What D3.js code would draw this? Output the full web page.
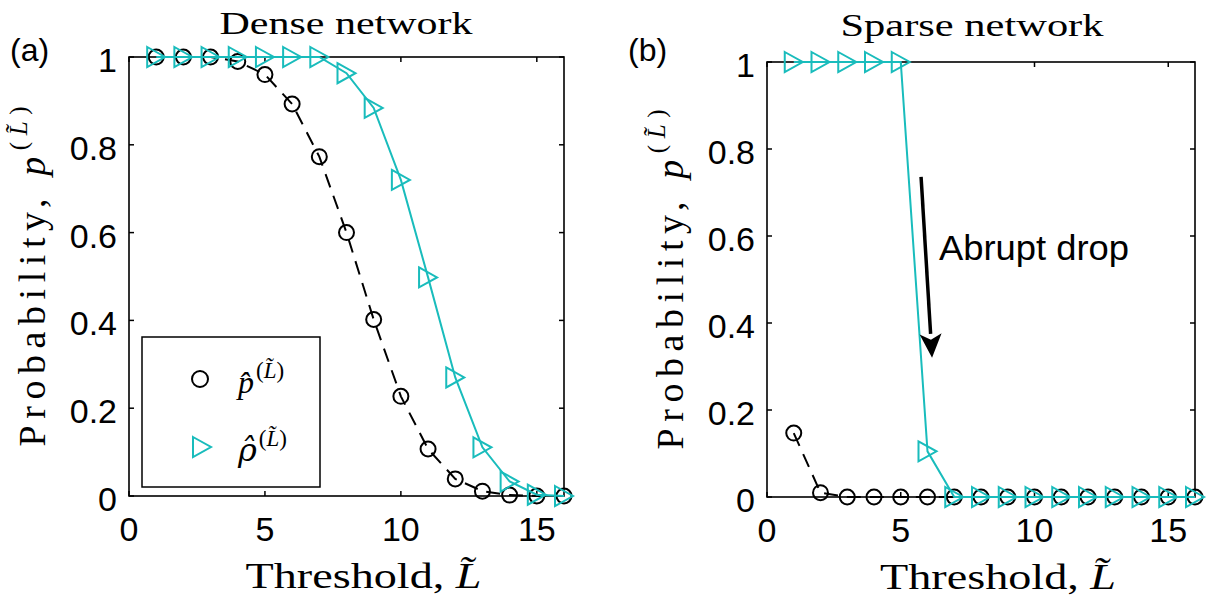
<!DOCTYPE html>
<html>
<head>
<meta charset="utf-8">
<script src="https://cdn.jsdelivr.net/npm/d3@7"></script>
<style>
  body { margin: 0; background: #fff; }
  svg { display: block; }
  .serif { font-family: "Liberation Serif", "DejaVu Serif", serif; }
  .sans { font-family: "Liberation Sans", Arial, sans-serif; }
</style>
</head>
<body>
<script>
// thresholds L~ = 1..16
const thresholds = [1, 2, 3, 4, 5, 6, 7, 8, 9, 10, 11, 12, 13, 14, 15, 16];

// dense network
const denseP   = [1, 1, 1, 0.99, 0.96, 0.893, 0.773, 0.6, 0.402, 0.227, 0.107, 0.039, 0.011, 0.002, 0, 0];
const denseRho = [1, 1, 1, 1, 1, 1, 1, 0.963, 0.884, 0.72, 0.498, 0.27, 0.111, 0.033, 0.003, 0];

// sparse network
const sparseP   = [0.147, 0.01, 0, 0, 0, 0, 0, 0, 0, 0, 0, 0, 0, 0, 0, 0];
const sparseRho = [1, 1, 1, 1, 1, 0.105, 0, 0, 0, 0, 0, 0, 0, 0, 0, 0];

const xTicks = [0, 5, 10, 15];
const yTicks = [0, 0.2, 0.4, 0.6, 0.8, 1];
const yTickLabels = ["0", "0.2", "0.4", "0.6", "0.8", "1"];

const cyan = "#19bcbc";
const width = 1220, height = 603;

const svg = d3.select("body").append("svg")
    .attr("width", width)
    .attr("height", height);

svg.append("rect").attr("width", width).attr("height", height).attr("fill", "#fff");

const panels = [
  {left: 129, right: 564, top: 57, bottom: 496, title: "Dense network", titleX: 346, titleY: 34, titleLen: 253,
   tag: "(a)", tagX: 10, p: denseP, rho: denseRho, legend: true},
  {left: 767, right: 1195, top: 62, bottom: 497, title: "Sparse network", titleX: 972, titleY: 36, titleLen: 263,
   tag: "(b)", tagX: 628, p: sparseP, rho: sparseRho, legend: false}
];

const triPath = "M-9,-10L9,0L-9,10Z";

panels.forEach((pn) => {
  const x = d3.scaleLinear().domain([0, 16]).range([pn.left, pn.right]);
  const y = d3.scaleLinear().domain([0, 1]).range([pn.bottom, pn.top]);
  const g = svg.append("g");

  // box
  g.append("rect")
      .attr("x", pn.left).attr("y", pn.top)
      .attr("width", pn.right - pn.left).attr("height", pn.bottom - pn.top)
      .attr("fill", "none").attr("stroke", "#000").attr("stroke-width", 1.6);

  // ticks, inward on all sides
  xTicks.forEach((t) => {
    g.append("line").attr("x1", x(t)).attr("x2", x(t)).attr("y1", pn.bottom).attr("y2", pn.bottom - 5)
      .attr("stroke", "#000").attr("stroke-width", 1.5);
    g.append("line").attr("x1", x(t)).attr("x2", x(t)).attr("y1", pn.top).attr("y2", pn.top + 5)
      .attr("stroke", "#000").attr("stroke-width", 1.5);
    g.append("text").attr("class", "sans")
      .attr("x", x(t)).attr("y", pn.bottom + 45)
      .attr("text-anchor", "middle").attr("font-size", 34)
      .text(t);
  });
  yTicks.forEach((t, i) => {
    g.append("line").attr("x1", pn.left).attr("x2", pn.left + 5).attr("y1", y(t)).attr("y2", y(t))
      .attr("stroke", "#000").attr("stroke-width", 1.5);
    g.append("line").attr("x1", pn.right).attr("x2", pn.right - 5).attr("y1", y(t)).attr("y2", y(t))
      .attr("stroke", "#000").attr("stroke-width", 1.5);
    g.append("text").attr("class", "sans")
      .attr("x", pn.left - 12).attr("y", y(t) + 15)
      .attr("text-anchor", "end").attr("font-size", 34)
      .text(yTickLabels[i]);
  });

  // title and tag
  g.append("text").attr("class", "serif")
    .attr("x", pn.titleX).attr("y", pn.titleY)
    .attr("text-anchor", "middle").attr("font-size", 31)
    .attr("textLength", pn.titleLen).attr("lengthAdjust", "spacingAndGlyphs")
    .text(pn.title);
  g.append("text").attr("class", "sans")
    .attr("x", pn.tagX).attr("y", 61)
    .attr("font-size", 32)
    .text(pn.tag);

  // x label
  const xl = g.append("text").attr("class", "serif")
    .attr("x", (pn.left + pn.right) / 2 + 17).attr("y", pn.bottom + 92)
    .attr("text-anchor", "middle").attr("font-size", 35)
    .attr("textLength", 236).attr("lengthAdjust", "spacingAndGlyphs");
  xl.append("tspan").text("Threshold, ");
  xl.append("tspan").attr("font-style", "italic").text("L\u0303");

  // y label
  const yc = (pn.top + pn.bottom) / 2;
  const yl = g.append("text").attr("class", "serif")
    .attr("transform", `translate(${pn.left - 84},${yc}) rotate(-90)`)
    .attr("text-anchor", "middle").attr("font-size", 38)
    .attr("textLength", 340).attr("lengthAdjust", "spacing");
  yl.append("tspan").text("Probability, ");
  yl.append("tspan").attr("font-style", "italic").text("p");
  yl.append("tspan").attr("font-size", 25).attr("dy", -18).text("(");
  yl.append("tspan").attr("font-size", 25).attr("font-style", "italic").text("L\u0303");
  yl.append("tspan").attr("font-size", 25).text(")");

  // series
  const line = d3.line()
      .x((d, i) => x(thresholds[i]))
      .y((d) => y(d));

  g.append("path").attr("d", line(pn.p))
    .attr("fill", "none").attr("stroke", "#000").attr("stroke-width", 2)
    .attr("stroke-dasharray", "14,9");
  g.selectAll(".circ").data(pn.p).enter().append("circle")
    .attr("cx", (d, i) => x(thresholds[i])).attr("cy", (d) => y(d)).attr("r", 7.5)
    .attr("fill", "none").attr("stroke", "#000").attr("stroke-width", 2);

  g.append("path").attr("d", line(pn.rho))
    .attr("fill", "none").attr("stroke", cyan).attr("stroke-width", 2);
  g.selectAll(".tri").data(pn.rho).enter().append("path")
    .attr("d", triPath)
    .attr("transform", (d, i) => `translate(${x(thresholds[i])},${y(d)})`)
    .attr("fill", "none").attr("stroke", cyan).attr("stroke-width", 2);

  if (pn.legend) {
    g.append("rect").attr("x", 142).attr("y", 337).attr("width", 178).attr("height", 150)
      .attr("fill", "#fff").attr("stroke", "#000").attr("stroke-width", 1.5);
    g.append("circle").attr("cx", 200).attr("cy", 379).attr("r", 8)
      .attr("fill", "none").attr("stroke", "#000").attr("stroke-width", 2);
    g.append("path").attr("d", triPath).attr("transform", "translate(202,447)")
      .attr("fill", "none").attr("stroke", cyan).attr("stroke-width", 2);
    [["p\u0302", 393, "Liberation Serif"], ["\u03c1\u0302", 461, "DejaVu Serif"]].forEach(([s, by, fam]) => {
      const t = g.append("text").attr("class", "serif")
        .attr("x", 238).attr("y", by).attr("font-size", 32);
      t.append("tspan").attr("font-style", "italic").attr("font-family", fam).text(s);
      t.append("tspan").attr("font-size", 23).attr("dx", 2).attr("dy", -15).text("(");
      t.append("tspan").attr("font-size", 23).attr("font-style", "italic").text("L\u0303");
      t.append("tspan").attr("font-size", 23).text(")");
    });
  } else {
    // annotation arrow
    const a0 = [5.76, 0.736], a1 = [6.17, 0.32];
    const x0 = x(a0[0]), y0 = y(a0[1]), x1 = x(a1[0]), y1 = y(a1[1]);
    const ang = Math.atan2(y1 - y0, x1 - x0);
    const hl = 24, hw = 11;
    const bx = x1 - hl * Math.cos(ang), by = y1 - hl * Math.sin(ang);
    g.append("line").attr("x1", x0).attr("y1", y0).attr("x2", bx).attr("y2", by)
      .attr("stroke", "#000").attr("stroke-width", 3.5);
    g.append("path")
      .attr("d", `M${x1},${y1}L${bx + hw * Math.sin(ang)},${by - hw * Math.cos(ang)}L${bx + 6 * Math.cos(ang)},${by + 6 * Math.sin(ang)}L${bx - hw * Math.sin(ang)},${by + hw * Math.cos(ang)}Z`)
      .attr("fill", "#000");
    g.append("text").attr("class", "sans")
      .attr("x", x(6.43)).attr("y", y(0.545))
      .attr("font-size", 35)
      .attr("textLength", 190).attr("lengthAdjust", "spacingAndGlyphs")
      .text("Abrupt drop");
  }
});
</script>
</body>
</html>
